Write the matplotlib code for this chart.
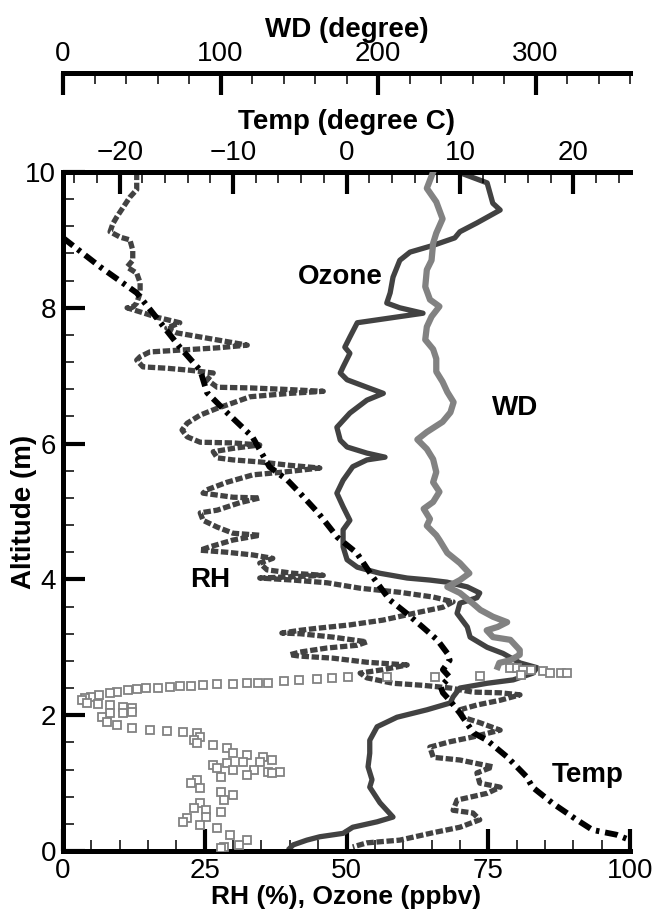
import matplotlib.pyplot as plt
import matplotlib.ticker as ticker

plt.rcParams['font.family'] = ['Liberation Sans', 'DejaVu Sans']

# ---- data ----
# Temperature (degree C) vs altitude
temp_alt = [9.03, 8.6, 8.22, 7.97, 7.42, 7.08, 6.75, 6.45, 6.1, 5.66, 5.46, 5.27, 4.98,
            4.62, 4.39, 4.04, 3.70, 3.50, 3.30, 3.11, 2.91, 2.81, 2.67, 2.56, 2.42, 2.33,
            2.22, 2.03, 1.74, 1.63, 1.38, 1.09, 0.94, 0.70, 0.46, 0.31, 0.24, 0.16]
temp_c = [-25, -21.7, -18.5, -17.3, -14.7, -12.9, -12.3, -10.5, -8.3, -6.8, -5.2, -4.1, -2.5,
          -0.8, 0.9, 2.3, 3.8, 5.3, 6.7, 8.0, 8.9, 9.1, 8.5, 9.1, 8.3, 8.5,
          9.1, 10.0, 11.2, 12.4, 14.2, 15.9, 16.4, 18.2, 20.3, 21.7, 23.8, 25.0]

# Ozone (ppbv)
ozone_alt = [9.99, 9.84, 9.54, 9.44, 9.25, 9.12, 9.03, 8.92, 8.82, 8.70, 8.45, 8.22, 8.07,
             8.0, 7.92, 7.78, 7.57, 7.42, 7.33, 7.13, 7.04, 6.94, 6.83, 6.74, 6.64, 6.45,
             6.24, 6.05, 5.95, 5.86, 5.80, 5.76, 5.66, 5.46, 5.27, 5.07, 4.87, 4.73, 4.48,
             4.29, 4.18, 4.09, 4.02, 3.99, 3.96, 3.89, 3.80, 3.73, 3.65, 3.50, 3.30, 3.15,
             3.0, 2.91, 2.77, 2.70, 2.62, 2.52, 2.47, 2.40, 2.27, 2.18, 2.08, 1.97, 1.83,
             1.63, 1.44, 1.24, 1.05, 0.94, 0.71, 0.5, 0.43, 0.35, 0.26, 0.21, 0.16, 0.09, 0.04]
ozone_ppb = [70.0, 74.8, 75.8, 77.1, 73.0, 70.0, 69.1, 65.3, 61.2, 59.4, 58.2, 57.7, 57.1,
             59.4, 63.5, 51.9, 50.6, 49.7, 50.6, 49.4, 48.9, 50.1, 53.6, 56.5, 53.6, 50.6,
             48.3, 48.9, 50.1, 53.6, 56.8, 53.6, 51.1, 49.4, 48.3, 49.4, 50.6, 49.4, 49.4,
             50.1, 51.9, 55.9, 60.7, 64.7, 67.7, 71.3, 73.5, 73.0, 70.0, 69.5, 71.3, 71.8,
             74.8, 77.6, 80.6, 83.6, 82.9, 79.4, 74.8, 70.0, 68.8, 68.3, 64.2, 58.9, 55.4,
             54.1, 54.1, 53.8, 54.5, 54.1, 55.9, 58.2, 55.4, 51.1, 49.4, 45.3, 43.0, 40.6, 40.0]

# Relative humidity (%)
rh_alt = [9.99, 9.74, 9.63, 9.48, 9.34, 9.24, 9.12, 9.04, 9.0, 8.85, 8.70, 8.60, 8.51, 8.37,
          8.22, 8.07, 8.01, 8.0, 7.94, 7.86, 7.78, 7.70, 7.63, 7.57, 7.50, 7.45, 7.41, 7.38,
          7.35, 7.28, 7.23, 7.13, 7.11, 7.08, 7.04, 6.94, 6.83, 6.82, 6.80, 6.77, 6.74, 6.69,
          6.60, 6.52, 6.42, 6.30, 6.20, 6.10, 6.02, 6.01, 5.98, 5.93, 5.88, 5.79, 5.76, 5.73,
          5.68, 5.64, 5.58, 5.54, 5.43, 5.32, 5.27, 5.21, 5.20, 5.13, 5.02, 4.98, 4.87, 4.77,
          4.68, 4.65, 4.58, 4.48, 4.43, 4.40, 4.36, 4.31, 4.24, 4.14, 4.09, 4.06, 4.04, 4.02,
          3.99, 3.95, 3.87, 3.84, 3.81, 3.74, 3.67, 3.59, 3.51, 3.40, 3.33, 3.28, 3.25, 3.21,
          3.20, 3.15, 3.08, 3.03, 2.99, 2.93, 2.89, 2.87, 2.84, 2.78, 2.74, 2.67, 2.62, 2.55,
          2.47, 2.44, 2.40, 2.34, 2.33, 2.30, 2.22, 2.15, 2.08, 1.97, 1.89, 1.78, 1.68, 1.61,
          1.53, 1.38, 1.34, 1.24, 1.15, 1.00, 0.94, 0.85, 0.75, 0.60, 0.56, 0.46, 0.35, 0.27,
          0.16, 0.12, 0.06]
rh_pct = [13.0, 13.0, 11.8, 10.6, 9.5, 8.8, 8.3, 10.1, 11.8, 12.3, 12.3, 11.3, 13.0, 13.6,
          13.6, 13.0, 12.3, 11.3, 13.6, 16.6, 20.6, 18.3, 20.1, 24.2, 28.9, 32.5, 27.2, 21.2,
          15.3, 13.6, 13.0, 14.1, 18.3, 22.4, 26.5, 25.4, 27.2, 33.0, 38.8, 45.9, 40.0, 33.0,
          30.0, 27.2, 24.2, 21.9, 21.0, 21.9, 24.2, 30.0, 34.7, 30.0, 26.5, 27.2, 30.0, 34.7,
          40.0, 45.3, 38.8, 33.5, 28.9, 25.4, 24.7, 30.0, 34.7, 31.2, 27.2, 24.2, 24.7, 27.2,
          30.0, 34.7, 30.0, 25.9, 24.2, 28.9, 33.5, 37.0, 34.7, 36.0, 40.6, 45.9, 40.6, 34.7,
          40.6, 46.6, 52.4, 55.9, 59.4, 65.3, 68.8, 67.0, 62.4, 56.4, 50.6, 44.8, 41.8, 38.6,
          41.8, 47.6, 53.6, 51.9, 46.6, 41.8, 40.0, 41.8, 47.6, 53.6, 60.7, 56.4, 52.4, 53.6,
          58.2, 63.5, 68.3, 72.3, 77.1, 80.6, 77.1, 73.0, 70.0, 70.5, 73.5, 77.1, 72.3, 68.3,
          64.7, 65.3, 70.0, 75.8, 73.0, 73.5, 77.1, 74.8, 69.5, 68.8, 72.3, 73.5, 70.0, 65.3,
          59.4, 53.6, 51.1]

# Wind direction (degree): continuous part above ~2.7 km, sparse points below
wd_line_alt = [10.0, 9.76, 9.56, 9.31, 9.1, 8.95, 8.70, 8.56, 8.31, 8.12, 8.02, 7.87, 7.72,
               7.53, 7.39, 7.25, 7.06, 6.91, 6.76, 6.61, 6.46, 6.32, 6.17, 6.06, 5.92, 5.77,
               5.58, 5.43, 5.29, 5.14, 5.04, 4.89, 4.79, 4.65, 4.58, 4.39, 4.24, 4.09, 3.99,
               3.89, 3.80, 3.65, 3.55, 3.45, 3.37, 3.30, 3.25, 3.15, 3.11, 2.96, 2.89, 2.81,
               2.77, 2.71]
wd_line_deg = [235, 231, 237, 241, 237, 235, 234, 231, 230, 233, 239, 234, 231,
               230, 235, 237, 237, 241, 244, 248, 246, 241, 231, 225, 231, 235,
               237, 235, 239, 235, 229, 233, 231, 237, 239, 244, 252, 258, 252,
               244, 252, 260, 265, 273, 282, 276, 269, 273, 284, 290, 290, 284,
               277, 276]
wd_pts_alt = [2.70, 2.70, 2.67, 2.67, 2.65, 2.62, 2.62, 2.62, 2.59, 2.58, 2.56, 2.56, 2.56,
              2.55, 2.53, 2.52, 2.50, 2.47, 2.47, 2.47, 2.46, 2.46, 2.44, 2.43, 2.43, 2.42,
              2.40, 2.40, 2.39, 2.37, 2.34, 2.33, 2.30, 2.27, 2.25, 2.22, 2.18, 2.16, 2.15,
              2.12, 2.11, 2.05, 2.03, 2.03, 1.97, 1.90, 1.86, 1.81, 1.78, 1.77, 1.75, 1.74,
              1.68, 1.63, 1.59, 1.56, 1.52, 1.44, 1.41, 1.38, 1.34, 1.31, 1.31, 1.30, 1.27,
              1.22, 1.19, 1.19, 1.16, 1.16, 1.15, 1.12, 1.09, 1.05, 1.00, 0.93, 0.87, 0.82,
              0.75, 0.71, 0.63, 0.60, 0.57, 0.50, 0.49, 0.43, 0.38, 0.34, 0.24, 0.16, 0.09,
              0.06, 0.04]
wd_pts_deg = [284, 288, 292, 297, 305, 309, 316, 320, 291, 265, 236, 206, 181,
              171, 161, 150, 140, 130, 124, 117, 108, 98, 89, 81, 74, 68,
              60, 53, 47, 41, 34, 30, 23, 18, 14, 12, 15, 22, 30,
              38, 44, 44, 38, 30, 25, 28, 34, 44, 55, 66, 76, 85,
              87, 83, 85, 95, 104, 108, 117, 127, 133, 125, 114, 104, 95,
              98, 108, 121, 130, 138, 133, 117, 100, 85, 81, 87, 100, 108,
              102, 87, 83, 91, 100, 91, 79, 76, 87, 98, 106, 117, 112,
              102, 100]

rh_ticks = [0, 25, 50, 75, 100]
temp_ticks = [-20, -10, 0, 10, 20]
wd_ticks = [0, 100, 200, 300]
alt_ticks = [0, 2, 4, 6, 8, 10]

DARK = '#424242'
GRAY = '#828282'

fig = plt.figure(figsize=(6.54, 9.18), dpi=100)
ax = fig.add_axes([63 / 654, 1 - 851 / 918, 567 / 654, 679 / 918])

# main axes: RH and ozone
ax.plot(rh_pct, rh_alt, color=DARK, lw=3.8, linestyle=(0, (1.4, 0.5)), dash_capstyle='butt')
ax.plot(ozone_ppb, ozone_alt, color=DARK, lw=3.8, solid_joinstyle='round')
ax.set_xlim(0, 100)
ax.set_ylim(0, 10)
ax.set_xticks(rh_ticks)
ax.set_yticks(alt_ticks)
ax.xaxis.set_minor_locator(ticker.MultipleLocator(5))
ax.yaxis.set_minor_locator(ticker.MultipleLocator(0.4))
ax.set_xlabel('RH (%), Ozone (ppbv)', fontsize=19, fontweight='bold', labelpad=1)
ax.set_ylabel('Altitude (m)', fontsize=20, fontweight='bold')
ax.yaxis.set_label_coords(-0.046, 0.5)
for s in ['top', 'right']:
    ax.spines[s].set_visible(False)
for s in ['left', 'bottom']:
    ax.spines[s].set_linewidth(3.6)
ax.tick_params(which='major', direction='in', length=16, width=3, labelsize=20)
ax.tick_params(axis='x', which='major', pad=5)
ax.tick_params(axis='y', which='major', pad=5)
ax.tick_params(which='minor', direction='in', length=8, width=1.1)
ax.tick_params(top=False, right=False, which='both')

# temperature axis (top of the frame)
axT = ax.twiny()
axT.plot(temp_c, temp_alt, color='black', lw=4.2, linestyle=(0, (2.2, 1.0, 0.6, 1.0)),
         dash_capstyle='butt')
axT.set_xlim(-25, 25)
axT.set_xticks(temp_ticks)
axT.xaxis.set_minor_locator(ticker.MultipleLocator(2))
axT.set_xlabel('Temp (degree C)', fontsize=20, fontweight='bold', labelpad=8)
for s in ['bottom', 'left', 'right']:
    axT.spines[s].set_visible(False)
axT.spines['top'].set_linewidth(3.6)
axT.tick_params(which='major', direction='in', length=16, width=3, labelsize=20, pad=4)
axT.tick_params(which='minor', direction='in', length=8, width=1.1)

# wind direction axis (floating above)
axW = ax.twiny()
axW.plot(wd_line_deg, wd_line_alt, color=GRAY, lw=4.5, solid_joinstyle='round')
axW.plot(wd_pts_deg, wd_pts_alt, linestyle='none', marker='s', ms=6,
         mfc='white', mec=GRAY, mew=1.3)
axW.set_xlim(0, 360)
axW.set_xticks(wd_ticks)
axW.xaxis.set_minor_locator(ticker.MultipleLocator(20))
axW.set_xlabel('WD (degree)', fontsize=20, fontweight='bold', labelpad=3)
axW.spines['top'].set_position(('axes', 1.1458))
for s in ['bottom', 'left', 'right']:
    axW.spines[s].set_visible(False)
axW.spines['top'].set_linewidth(3.6)
axW.tick_params(which='major', direction='in', length=16, width=3, labelsize=20, pad=4)
axW.tick_params(which='minor', direction='in', length=8, width=1.1)

# curve labels
ax.text(48.9, 8.45, 'Ozone', fontsize=20, fontweight='bold', ha='center', va='center')
ax.text(79.7, 6.52, 'WD', fontsize=20, fontweight='bold', ha='center', va='center')
ax.text(25.9, 3.99, 'RH', fontsize=20, fontweight='bold', ha='center', va='center')
ax.text(92.5, 1.12, 'Temp', fontsize=20, fontweight='bold', ha='center', va='center')

fig.savefig('out.png', dpi=100)
